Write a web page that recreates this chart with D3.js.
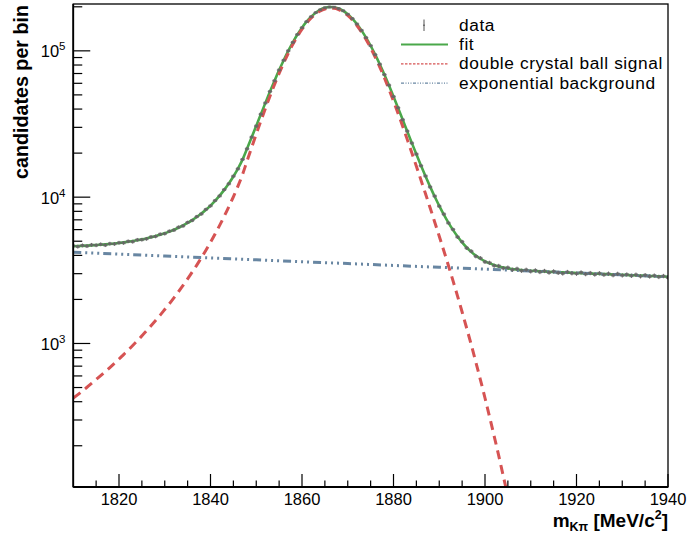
<!DOCTYPE html>
<html><head><meta charset="utf-8">
<script src="https://cdn.jsdelivr.net/npm/d3@7"></script>
<style>body{margin:0;background:#fff} text{font-family:"Liberation Sans",Arial,Helvetica,sans-serif;fill:#000}</style>
</head><body><svg id="c" width="687" height="538"></svg>
<script>
// bin centres (MeV/c^2)
const masses = [1810,1811,1812,1813,1814,1815,1816,1817,1818,1819,1820,1821,1822,1823,1824,1825,1826,1827,1828,1829,
1830,1831,1832,1833,1834,1835,1836,1837,1838,1839,1840,1841,1842,1843,1844,1845,1846,1847,1848,1849,
1850,1851,1852,1853,1854,1855,1856,1857,1858,1859,1860,1861,1862,1863,1864,1865,1866,1867,1868,1869,
1870,1871,1872,1873,1874,1875,1876,1877,1878,1879,1880,1881,1882,1883,1884,1885,1886,1887,1888,1889,
1890,1891,1892,1893,1894,1895,1896,1897,1898,1899,1900,1901,1902,1903,1904,1905,1906,1907,1908,1909,
1910,1911,1912,1913,1914,1915,1916,1917,1918,1919,1920,1921,1922,1923,1924,1925,1926,1927,1928,1929,
1930,1931,1932,1933,1934,1935,1936,1937,1938,1939,1940];
// data: candidates per bin
const dataCounts = [4650,4590,4680,4630,4720,4690,4760,4700,4810,4790,4880,4870,4990,4960,5110,5120,5190,5350,5390,5580,
5630,5850,5950,6230,6360,6720,6930,7360,7680,8250,8720,9480,10190,11260,12340,13910,15620,18110,21400,25720,
30620,36900,44010,52750,62480,73900,86230,100050,114290,129360,143950,158350,171050,182380,190820,196900,199300,198850,194650,187850,
177880,166200,152450,138160,123020,108460,94090,81050,68810,58250,48710,40820,33830,28290,23420,19700,16390,13950,11740,10170,
8680,7660,6660,6020,5340,4960,4490,4270,3940,3830,3610,3560,3400,3390,3270,3300,3190,3240,3140,3190,
3110,3160,3080,3130,3050,3110,3040,3010,3080,3020,3000,3060,2980,3030,2960,3020,2950,3000,2930,2990,
2920,2960,2900,2950,2880,2930,2870,2910,2850,2890,2820];
// total fit
const fitValues = [4623,4635,4649,4665,4684,4705,4729,4756,4787,4822,4861,4906,4955,5011,5074,5145,5224,5315,5418,5533,
5666,5814,5986,6181,6404,6664,6963,7312,7720,8197,8761,9434,10239,11211,12394,13847,15669,18053,21469,25641,
30708,36814,44099,52662,62560,73805,86326,99948,114391,129254,144068,158238,171159,182250,190931,196762,199408,198730,194764,187728,
177996,166081,152557,138044,123134,108354,94191,80954,68904,58160,48800,40737,33914,28211,23500,19630,16465,13888,11800,10098,
8723,7609,6705,5973,5384,4909,4527,4226,3983,3794,3643,3525,3433,3362,3305,3262,3226,3198,3176,3157,
3140,3126,3114,3103,3089,3079,3070,3061,3052,3043,3034,3025,3016,3007,2999,2990,2981,2972,2964,2955,
2946,2937,2929,2920,2911,2903,2894,2886,2877,2869,2860];
// double crystal ball signal (1810 .. 1906)
const signalValues = [423,447,474,502,533,567,603,642,685,732,783,840,901,969,1044,1127,1218,1321,1435,1562,
1707,1867,2050,2257,2492,2763,3074,3434,3853,4342,4917,5602,6418,7401,8595,10060,11893,14288,17715,21898,
26976,33093,40389,48963,58872,70128,82660,96293,110746,125620,140445,154626,167557,178659,187351,193192,195849,195181,191226,184200,
174479,162574,149060,134558,119658,104888,90735,77508,65469,54735,45385,37332,30519,24826,20125,16265,13110,10543,8465,6773,
5407,4303,3409,2687,2107,1642,1270,978,745,565,424,315,233,171,124,90,64];
// exponential background
const bgMasses = [1810,1820,1830,1840,1850,1860,1870,1880,1890,1900,1910,1920,1930,1940];
const bgValues = [4200,4078,3959,3844,3732,3623,3517,3415,3316,3219,3125,3034,2946,2860];
const xMajorTicks = [1820,1840,1860,1880,1900,1920,1940];
const xMinorTicks = [1815,1825,1830,1835,1845,1850,1855,1865,1870,1875,1885,1890,1895,1905,1910,1915,1925,1930,1935];
const yMajorTicks = [1000,10000,100000];
const yMajorExp = ["3","4","5"];
const yMinorTicks = [200,300,400,500,600,700,800,900,2000,3000,4000,5000,6000,7000,8000,9000,20000,30000,40000,50000,60000,70000,80000,90000,200000];
const legendLabels = ["data","fit","double crystal ball signal","exponential background"];

const L = 73.25, R = 668, T = 4, B = 487;
const svg = d3.select("#c");
svg.append("rect").attr("width",687).attr("height",538).attr("fill","#fff");
const x = d3.scaleLinear().domain([1810,1940]).range([L,R]);
const y = d3.scaleLog().domain([104.5, 2.09e5]).range([B,T]);

svg.append("clipPath").attr("id","clip").append("rect")
  .attr("x",L).attr("y",T).attr("width",R-L).attr("height",B-T);
const plot = svg.append("g").attr("clip-path","url(#clip)");

const line = d3.line().x(d=>x(d[0])).y(d=>y(d[1])).curve(d3.curveMonotoneX);
const fitPts = masses.map((m,i)=>[m,fitValues[i]]);
const sigPts = signalValues.map((v,i)=>[masses[i],v]);
const bgPts = bgMasses.map((m,i)=>[m,bgValues[i]]);

const GREEN="#4aa84a", RED="#d65353", BLUE="#6886a2", GREY="#666666";

plot.append("path").attr("d",line(fitPts)).attr("fill","none").attr("stroke",GREEN).attr("stroke-width",2.6);
plot.append("path").attr("d",line(sigPts)).attr("fill","none").attr("stroke",RED).attr("stroke-width",3).attr("stroke-dasharray","9,6");
plot.append("path").attr("d",line(bgPts)).attr("fill","none").attr("stroke",BLUE).attr("stroke-width",3).attr("stroke-dasharray","8,4,2,4,2,4,2,4");

// data points
const dg = plot.append("g");
masses.forEach((m,i)=>{
  const v = dataCounts[i], e = Math.sqrt(v);
  dg.append("line").attr("x1",x(m)).attr("x2",x(m)).attr("y1",y(v+e)-1).attr("y2",y(v-e)+1)
    .attr("stroke",GREY).attr("stroke-width",1);
  dg.append("line").attr("x1",x(m-0.5)).attr("x2",x(m+0.5)).attr("y1",y(v)).attr("y2",y(v))
    .attr("stroke",GREY).attr("stroke-width",1.2).attr("opacity",0.75);
  dg.append("rect").attr("x",x(m)-1.8).attr("y",y(v)-1.4).attr("width",3.6).attr("height",2.8)
    .attr("fill",GREY).attr("opacity",0.8);
});

// frame
svg.append("rect").attr("x",L).attr("y",T).attr("width",R-L).attr("height",B-T)
  .attr("fill","none").attr("stroke","#000").attr("stroke-width",1.3);
svg.append("line").attr("x1",L).attr("x2",L).attr("y1",T).attr("y2",B).attr("stroke","#000").attr("stroke-width",1.8);
svg.append("line").attr("x1",L).attr("x2",R).attr("y1",B).attr("y2",B).attr("stroke","#000").attr("stroke-width",1.8);

// x ticks
const ax = svg.append("g");
xMajorTicks.forEach(t=>{
  ax.append("line").attr("x1",x(t)).attr("x2",x(t)).attr("y1",B).attr("y2",B-13).attr("stroke","#000").attr("stroke-width",1.2);
  ax.append("text").attr("x",x(t)).attr("y",505).attr("text-anchor","middle").attr("font-size",16.5).text(t);
});
xMinorTicks.forEach(t=>{
  ax.append("line").attr("x1",x(t)).attr("x2",x(t)).attr("y1",B).attr("y2",B-6.5).attr("stroke","#000").attr("stroke-width",1.2);
});
// y ticks
yMajorTicks.forEach((t,i)=>{
  ax.append("line").attr("x1",L).attr("x2",L+17).attr("y1",y(t)).attr("y2",y(t)).attr("stroke","#000").attr("stroke-width",1.2);
  const tx = ax.append("text").attr("x",65.5).attr("y",y(t)+6.5).attr("text-anchor","end").attr("font-size",16.5);
  tx.append("tspan").text("10");
  tx.append("tspan").attr("dy",-7).attr("font-size",11.5).text(yMajorExp[i]);
});
yMinorTicks.forEach(t=>{
  ax.append("line").attr("x1",L).attr("x2",L+9).attr("y1",y(t)).attr("y2",y(t)).attr("stroke","#000").attr("stroke-width",1.2);
});

// axis titles
const xt = svg.append("text").attr("x",668).attr("y",527).attr("text-anchor","end")
  .attr("font-size",19).attr("font-weight","bold");
xt.append("tspan").text("m");
xt.append("tspan").attr("dy",4).attr("font-size",12.5).text("Kπ");
xt.append("tspan").attr("dy",-4).text(" [MeV/c");
xt.append("tspan").attr("dy",-8).attr("font-size",12.5).text("2");
xt.append("tspan").attr("dy",8).text("]");

svg.append("text").attr("transform","translate(28,5) rotate(-90)").attr("text-anchor","end")
  .attr("font-size",19.7).attr("font-weight","bold").text("candidates per bin");

// legend
const lg = svg.append("g");
const lx0 = 401, lx1 = 448, ltx = 459;
const baselines = [30.5,49.9,69.3,88.7];
legendLabels.forEach((s,i)=>{
  lg.append("text").attr("x",ltx).attr("y",baselines[i]).attr("font-size",17.3)
    .attr("letter-spacing","0.6px").text(s);
});
lg.append("line").attr("x1",424).attr("x2",424).attr("y1",19.5).attr("y2",31).attr("stroke","#555").attr("stroke-width",1);
lg.append("line").attr("x1",423).attr("x2",425).attr("y1",25.2).attr("y2",25.2).attr("stroke","#555").attr("stroke-width",1);
lg.append("line").attr("x1",lx0).attr("x2",lx1).attr("y1",44.5).attr("y2",44.5).attr("stroke",GREEN).attr("stroke-width",2);
lg.append("line").attr("x1",lx0).attr("x2",lx1).attr("y1",63.8).attr("y2",63.8).attr("stroke",RED).attr("stroke-width",1.2).attr("stroke-dasharray","2.5,1.5");
lg.append("line").attr("x1",lx0).attr("x2",lx1).attr("y1",83.2).attr("y2",83.2).attr("stroke",BLUE).attr("stroke-width",1.2).attr("stroke-dasharray","3,1.5,1,1.5,1,1.5,1,1.5");
</script></body></html>
